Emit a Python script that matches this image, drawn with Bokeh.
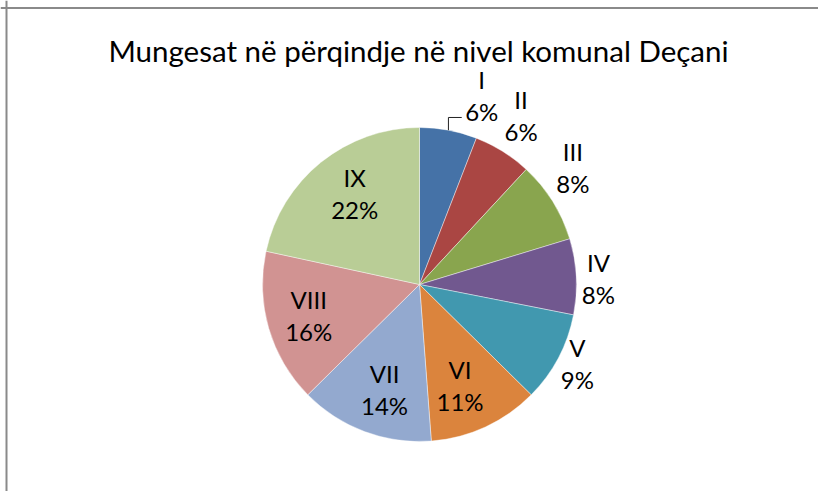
import math
from bokeh.plotting import figure
from bokeh.models import Range1d, Span
from bokeh.core.properties import value
from bokeh.embed import file_html
from bokeh.resources import INLINE

# ---- data ----
categories = ["I", "II", "III", "IV", "V", "VI", "VII", "VIII", "IX"]
shares = [5.9, 6.0, 8.4, 7.8, 9.3, 11.4, 13.8, 15.8, 21.6]
colors = ["#4572A7", "#AA4643", "#89A54E", "#71588F", "#4198AF",
          "#DB843D", "#93A9CF", "#D19392", "#B9CD96"]
title_text = "Mungesat në përqindje në nivel komunal Deçani"

# ---- layout ----
W, H = 818, 491


def py(y):
    return H - y


cx, cy = 419, py(284)
R = 157
# per label: (angle offset from slice middle in degrees, distance from centre in px)
label_layout = [(7.6, 199), (-1, 197), (-5.3, 193), (1.1, 179), (-1.3, 176.6),
                (3, 109), (-2.1, 110.7), (0.6, 115), (3.4, 111.7)]
FONT = "Lato"
LABEL_SIZE = "24px"

p = figure(width=W, height=H, output_backend="svg", toolbar_location=None,
           x_range=Range1d(0, W), y_range=Range1d(0, H),
           min_border=0, background_fill_color="white", border_fill_color="white")
p.axis.visible = False
p.grid.visible = False
p.outline_line_color = None

# chart frame (top and left edges visible)
p.add_layout(Span(location=6, dimension="height", line_color="#8a8a8a", line_width=2))
p.add_layout(Span(location=py(7.5), dimension="width", line_color="#8a8a8a", line_width=2))

total = sum(shares)
starts, ends, mids = [], [], []
cum = 0.0
for s in shares:
    a0 = cum / total * 2 * math.pi
    cum += s
    a1 = cum / total * 2 * math.pi
    starts.append(math.pi / 2 - a0)
    ends.append(math.pi / 2 - a1)
    mids.append((a0 + a1) / 2)

p.wedge(x=[cx] * len(shares), y=[cy] * len(shares), radius=R,
        start_angle=starts, end_angle=ends, direction="clock",
        fill_color=colors, line_color="white", line_width=0.6, line_alpha=0.7)

name_x, name_y, pct_x, pct_y, pct_txt = [], [], [], [], []
for i, (s, m) in enumerate(zip(shares, mids)):
    off, d = label_layout[i]
    a = m + math.radians(off)
    lx = cx + d * math.sin(a)
    ly = cy + d * math.cos(a)
    name_x.append(lx); name_y.append(ly + 16)
    pct_x.append(lx); pct_y.append(ly - 16)
    pct_txt.append(f"{round(s / total * 100)}%")

p.text(x=name_x, y=name_y, text=categories, text_font=value(FONT),
       text_font_size=LABEL_SIZE, text_align="center", text_baseline="middle",
       text_color="black")
p.text(x=pct_x, y=pct_y, text=pct_txt, text_font=value(FONT),
       text_font_size=LABEL_SIZE, text_align="center", text_baseline="middle",
       text_color="black")

# leader line for first label
sx = cx + R * math.sin(mids[0])
sy = cy + R * math.cos(mids[0])
ey = pct_y[0] - 6
p.line(x=[sx, sx, pct_x[0] - 20], y=[sy, ey, ey], line_color="#222222", line_width=1)

# title
p.text(x=[418], y=[py(50)], text=[title_text], text_font=value(FONT),
       text_font_size="29.5px", text_align="center", text_baseline="alphabetic",
       text_color="black")

open("out.html", "w").write(file_html(p, INLINE))
